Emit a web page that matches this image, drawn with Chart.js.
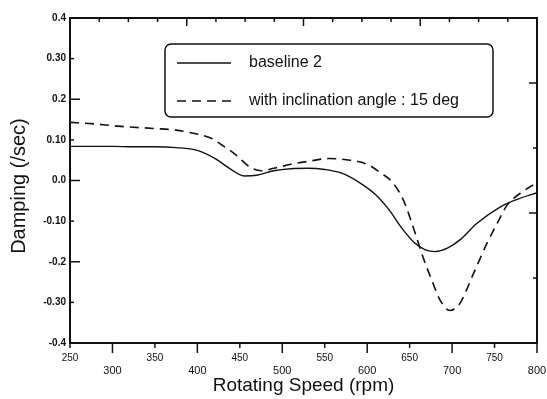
<!DOCTYPE html>
<html>
<head>
<meta charset="utf-8">
<script src="https://cdn.jsdelivr.net/npm/chart.js@4.4.0/dist/chart.umd.min.js"></script>
<style>
  html, body { margin: 0; padding: 0; background: #fff; }
  #wrap { width: 547px; height: 399px; }
</style>
</head>
<body>
<div id="wrap"><canvas id="canvas"></canvas></div>
<script>
// values
const speedBase = [250, 275, 300, 325, 350, 375, 400, 420, 440, 455, 470, 490, 510, 530, 550, 570, 590, 610, 625, 640, 655, 668, 680, 695, 710, 729, 756, 776, 800];
const dampBase  = [0.084, 0.084, 0.084, 0.083, 0.083, 0.081, 0.074, 0.055, 0.027, 0.011, 0.013, 0.024, 0.029, 0.030, 0.027, 0.018, -0.004, -0.035, -0.070, -0.115, -0.152, -0.170, -0.175, -0.166, -0.145, -0.106, -0.066, -0.047, -0.030];

const speedIncl = [250, 275, 300, 325, 350, 375, 391, 415, 430, 446, 462, 475, 490, 510, 530, 555, 580, 600, 615, 630, 643, 655, 666, 676, 686, 697, 709, 725, 741, 753, 765, 780, 800];
const dampIncl  = [0.143, 0.140, 0.135, 0.131, 0.128, 0.124, 0.118, 0.105, 0.086, 0.062, 0.033, 0.024, 0.030, 0.040, 0.047, 0.054, 0.050, 0.040, 0.020, -0.005, -0.050, -0.120, -0.190, -0.245, -0.295, -0.320, -0.303, -0.230, -0.155, -0.106, -0.060, -0.032, -0.005];

const yTickLabels = ['-0.4', '-0.30', '-0.2', '-0.10', '0.0', '0.10', '0.2', '0.30', '0.4'];

const seriesNames = ['baseline 2', 'with inclination angle : 15 deg'];

const ink = '#111';
const fontFam = '"Liberation Sans", Arial, sans-serif';

function toPoints(xs, ys) {
  return xs.map((x, i) => ({ x: x, y: ys[i] }));
}

// tick marks on all four sides of the frame
const frameTicks = {
  id: 'frameTicks',
  afterDraw(chart) {
    const ctx = chart.ctx;
    const a = chart.chartArea;
    ctx.save();
    ctx.strokeStyle = ink;
    ctx.lineWidth = 1.5;
    function seg(x1, y1, x2, y2) {
      ctx.beginPath(); ctx.moveTo(x1, y1); ctx.lineTo(x2, y2); ctx.stroke();
    }
    const sx = chart.scales.x;
    sx.ticks.forEach(t => {
      const px = sx.getPixelForValue(t.value);
      seg(px, a.bottom, px, a.bottom + (t.value % 100 === 0 ? 10 : 5));
    });
    const sy = chart.scales.y;
    sy.ticks.forEach((t, i) => {
      const py = sy.getPixelForValue(t.value);
      seg(a.left, py, a.left + (i % 2 === 0 ? 10 : 4), py);
    });
    // the top and right frame have their own, unlabelled divisions
    const st = chart.scales.xTop;
    for (let v = st.min; v <= st.max; v++) {
      const px = st.getPixelForValue(v);
      seg(px, a.top, px, a.top + (v % 4 === 0 ? 8 : 4));
    }
    const sr = chart.scales.yRight;
    for (let v = sr.min; v <= sr.max; v++) {
      const py = sr.getPixelForValue(v);
      seg(a.right, py, a.right - (v % 2 === 0 ? 8 : 4), py);
    }
    ctx.restore();
  }
};

// boxed legend inside the plot
const boxLegend = {
  id: 'boxLegend',
  afterDraw(chart) {
    const ctx = chart.ctx;
    const bx = 165, by = 44, bw = 328, bh = 73;
    ctx.save();
    ctx.strokeStyle = ink;
    ctx.lineWidth = 1.5;
    ctx.beginPath();
    ctx.roundRect(bx, by, bw, bh, 6);
    ctx.fillStyle = '#fff';
    ctx.fill();
    ctx.stroke();
    ctx.font = '16px ' + fontFam;
    ctx.textBaseline = 'middle';
    ctx.fillStyle = ink;
    const rows = [63, 101];
    chart.data.datasets.forEach((ds, i) => {
      ctx.lineWidth = ds.borderWidth;
      ctx.setLineDash(ds.borderDash || []);
      ctx.beginPath();
      ctx.moveTo(177, rows[i]);
      ctx.lineTo(231, rows[i]);
      ctx.stroke();
      ctx.setLineDash([]);
      ctx.fillText(ds.label, 249, rows[i]);
    });
    ctx.restore();
  }
};

const ctx = document.getElementById('canvas').getContext('2d');
new Chart(ctx, {
  type: 'line',
  data: {
    datasets: [
      {
        label: seriesNames[0],
        data: toPoints(speedBase, dampBase),
        borderColor: ink,
        borderWidth: 1.4,
        pointRadius: 0,
        cubicInterpolationMode: 'monotone',
        fill: false
      },
      {
        label: seriesNames[1],
        data: toPoints(speedIncl, dampIncl),
        borderColor: ink,
        borderWidth: 1.6,
        borderDash: [9, 6],
        pointRadius: 0,
        cubicInterpolationMode: 'monotone',
        fill: false
      }
    ]
  },
  options: {
    responsive: true,
    maintainAspectRatio: false,
    animation: false,
    layout: { padding: { left: 0, right: 10, top: 18, bottom: 0 } },
    plugins: {
      legend: { display: false },
      tooltip: { enabled: false }
    },
    scales: {
      x: {
        type: 'linear',
        position: 'bottom',
        min: 250,
        max: 800,
        afterFit: s => { s.height = 56; s.paddingLeft = 0; s.paddingRight = 0; },
        grid: { display: false, drawTicks: false },
        border: { display: true, color: ink, width: 2 },
        ticks: {
          stepSize: 50,
          autoSkip: false,
          maxRotation: 0,
          padding: 10,
          color: ink,
          font: c => ({
            family: fontFam,
            size: (c.tick && c.tick.value % 100 === 0) ? 11 : 10,
            lineHeight: 1.1
          }),
          callback: v => (v % 100 === 0 ? ['', String(v)] : [String(v), ''])
        },
        title: {
          display: true,
          text: 'Rotating Speed (rpm)',
          color: ink,
          font: { family: fontFam, size: 19 },
          padding: { top: 0, bottom: 2 }
        }
      },
      y: {
        type: 'linear',
        position: 'left',
        min: -0.4,
        max: 0.4,
        afterFit: s => { s.width = 70; },
        grid: { display: false, drawTicks: false },
        border: { display: true, color: ink, width: 2 },
        ticks: {
          stepSize: 0.1,
          padding: 4,
          color: ink,
          font: { family: fontFam, size: 10, weight: 'bold' },
          callback: (v, i) => yTickLabels[i]
        },
        title: {
          display: true,
          text: 'Damping (/sec)  ',
          color: ink,
          font: { family: fontFam, size: 20 },
          padding: { top: 7, bottom: 0 }
        }
      },
      xTop: {
        type: 'linear',
        position: 'top',
        min: 0,
        max: 16,
        afterFit: s => { s.height = 0; },
        grid: { display: false, drawTicks: false },
        border: { display: true, color: ink, width: 2 },
        ticks: { display: false, stepSize: 1, autoSkip: false }
      },
      yRight: {
        type: 'linear',
        position: 'right',
        min: 0,
        max: 5,
        afterFit: s => { s.width = 0; },
        grid: { display: false, drawTicks: false },
        border: { display: true, color: ink, width: 2 },
        ticks: { display: false, stepSize: 1, autoSkip: false }
      }
    }
  },
  plugins: [frameTicks, boxLegend]
});
</script>
</body>
</html>
